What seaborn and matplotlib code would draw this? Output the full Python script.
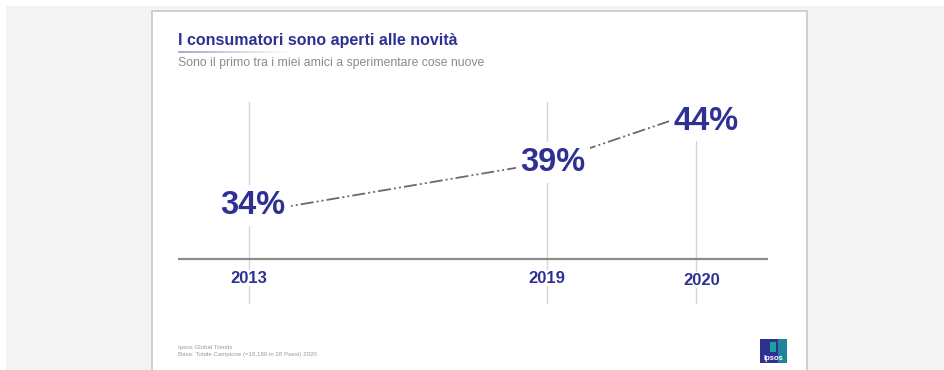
import numpy as np
import pandas as pd
import matplotlib.pyplot as plt
import seaborn as sns
from matplotlib.patches import Rectangle
from matplotlib.collections import LineCollection

# dati
anni = ['2013', '2019', '2020']
valori = [34, 39, 44]
posizioni = [0, 2, 3]   # spaziatura orizzontale come nella slide

titolo = 'I consumatori sono aperti alle novità'
sottotitolo = 'Sono il primo tra i miei amici a sperimentare cose nuove'
fonte = ['Ipsos Global Trends', 'Base: Totale Campione (=18,180 in 28 Paesi) 2020']

# spostamento delle etichette rispetto al punto (unità dati)
off_x = [0.027, 0.04, 0.067]
off_y = [0.79, 0.0, -0.89]

NAVY = '#2e3192'
W, H = 944, 370

sns.set_style('white')
plt.rcParams['font.family'] = ['Liberation Sans', 'DejaVu Sans']

fig = plt.figure(figsize=(W / 100, H / 100), dpi=100)
fig.patch.set_facecolor('white')


def fx(px):
    return px / W


def fy(py):
    return 1 - py / H


# sfondo grigio e slide bianca
fig.patches.append(Rectangle((fx(6), 0), fx(944) - fx(6), fy(6), transform=fig.transFigure,
                             facecolor='#f4f4f4', edgecolor='none', zorder=0))
fig.patches.append(Rectangle((fx(152), fy(372)), fx(807) - fx(152), fy(11) - fy(372),
                             transform=fig.transFigure, facecolor='white',
                             edgecolor='#c8c8c8', lw=1.2, zorder=1))

# titolo, linea sfumata e sottotitolo
fig.text(fx(178), fy(40), titolo, fontsize=11.5, fontweight='bold', color=NAVY,
         va='center', ha='left', zorder=3)
xs = np.linspace(fx(178), fx(290), 60)
segs = [[(xs[i], fy(52)), (xs[i + 1], fy(52))] for i in range(len(xs) - 1)]
cols = [(0.18, 0.19, 0.57, 0.5 * (1 - i / len(segs))) for i in range(len(segs))]
fig.add_artist(LineCollection(segs, colors=cols, linewidths=1.2, capstyle='butt',
                              transform=fig.transFigure, zorder=3))
fig.text(fx(178), fy(63), sottotitolo, fontsize=8.8, color='#8a8a8a', va='center', ha='left',
         zorder=3)

# area del grafico
ax = fig.add_axes([fx(178), fy(304), fx(768) - fx(178), fy(102) - fy(304)])
ax.set_zorder(5)
ax.patch.set_alpha(0)
ax.set_xlim(-0.477, 3.483)
ax.set_ylim(25.0, 45.0)
ax.axis('off')

for p in posizioni:
    ax.axvline(p, color='#d6d6d6', lw=1, zorder=1)
ax.axhline(29.45, color='#8c8c8c', lw=1.6, zorder=2)

df = pd.DataFrame({'pos': posizioni, 'valore': valori, 'anno': anni})
sns.lineplot(data=df, x='pos', y='valore', ax=ax, color='#6a6a6a', lw=1.3, zorder=3)
ax.lines[-1].set_dashes([7.2, 1.7, 1.1, 1.7, 1.1, 1.7])

for p, v, a, dx, dy in zip(posizioni, valori, anni, off_x, off_y):
    ax.text(p + dx, v + dy, f'{v}%', fontsize=23.5, fontweight='bold', color=NAVY,
            ha='center', va='center', zorder=4,
            bbox=dict(facecolor='white', edgecolor='none', pad=3.5))
    ax.text(p + (0.04 if a == '2020' else 0), 27.56 - (0.2 if a == '2020' else 0), a,
            fontsize=12, fontweight='bold', color=NAVY, ha='center', va='center', zorder=4,
            bbox=dict(facecolor='white', edgecolor='none', pad=0.5))

# note in basso
fig.text(fx(178), fy(348), fonte[0], fontsize=4.4, color='#9a9a9a', va='center', zorder=3)
fig.text(fx(178), fy(354.5), fonte[1], fontsize=4.4, color='#9a9a9a', va='center', zorder=3)

# logo Ipsos
fig.patches.append(Rectangle((fx(760), fy(363)), fx(787) - fx(760), fy(339) - fy(363),
                             transform=fig.transFigure, facecolor='#2e3192',
                             edgecolor='none', zorder=2))
fig.patches.append(Rectangle((fx(778), fy(363)), fx(787) - fx(778), fy(339) - fy(363),
                             transform=fig.transFigure, facecolor='#1a9fa0',
                             edgecolor='none', alpha=0.75, zorder=2))
fig.patches.append(Rectangle((fx(770), fy(352)), fx(776) - fx(770), fy(342) - fy(352),
                             transform=fig.transFigure, facecolor='#17a39b',
                             edgecolor='none', zorder=3))
fig.text(fx(773.5), fy(358), 'Ipsos', fontsize=5.5, fontweight='bold', color='white',
         ha='center', va='center', zorder=4)

fig.savefig('out.png', dpi=100)
